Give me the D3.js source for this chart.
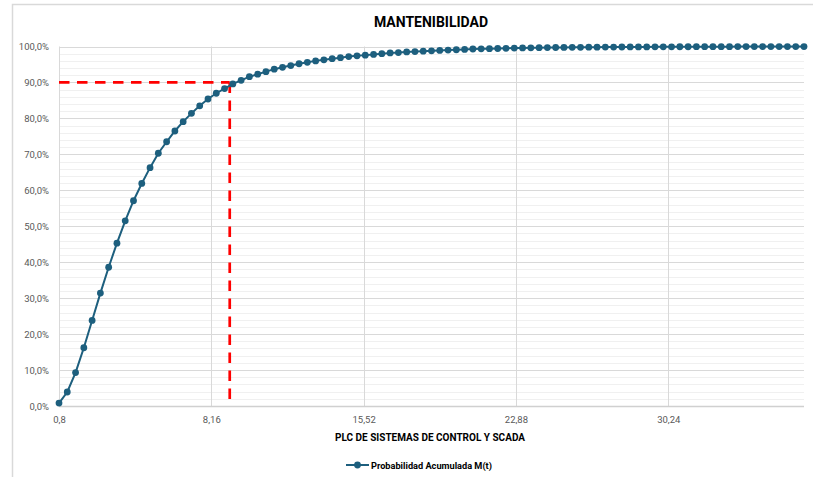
<!DOCTYPE html>
<html>
<head>
<meta charset="utf-8">
<script src="https://cdn.jsdelivr.net/npm/d3@7"></script>
<style>
  html, body { margin: 0; padding: 0; background: #ffffff; }
  svg { display: block; font-family: Roboto, "Liberation Sans", sans-serif; }
</style>
</head>
<body>
<svg id="chart" width="813" height="477"></svg>
<script>
// Tiempo (x) de cada punto de la curva
const tiempos = [
  0.8, 1.2, 1.6, 2.0, 2.4, 2.8, 3.2, 3.6, 4.0, 4.4,
  4.8, 5.2, 5.6, 6.0, 6.4, 6.8, 7.2, 7.6, 8.0, 8.4,
  8.8, 9.2, 9.6, 10.0, 10.4, 10.8, 11.2, 11.6, 12.0, 12.4,
  12.8, 13.2, 13.6, 14.0, 14.4, 14.8, 15.2, 15.6, 16.0, 16.4,
  16.8, 17.2, 17.6, 18.0, 18.4, 18.8, 19.2, 19.6, 20.0, 20.4,
  20.8, 21.2, 21.6, 22.0, 22.4, 22.8, 23.2, 23.6, 24.0, 24.4,
  24.8, 25.2, 25.6, 26.0, 26.4, 26.8, 27.2, 27.6, 28.0, 28.4,
  28.8, 29.2, 29.6, 30.0, 30.4, 30.8, 31.2, 31.6, 32.0, 32.4,
  32.8, 33.2, 33.6, 34.0, 34.4, 34.8, 35.2, 35.6, 36.0, 36.4,
  36.8
];

// Probabilidad acumulada M(t), en %
const probabilidad = [
  0.8, 3.9, 9.3, 16.2, 23.8, 31.4, 38.6, 45.3, 51.5, 57.1,
  61.9, 66.3, 70.3, 73.5, 76.5, 79.1, 81.4, 83.5, 85.4, 87.0,
  88.3, 89.6, 90.6, 91.6, 92.3, 93.0, 93.7, 94.2, 94.7, 95.2,
  95.6, 96.0, 96.3, 96.6, 96.9, 97.2, 97.4, 97.6, 97.8, 98.0,
  98.2, 98.3, 98.5, 98.6, 98.7, 98.8, 98.9, 99.0, 99.1, 99.2,
  99.3, 99.35, 99.4, 99.45, 99.5, 99.55, 99.6, 99.63, 99.66, 99.69,
  99.72, 99.74, 99.76, 99.78, 99.8, 99.82, 99.83, 99.85, 99.86, 99.87,
  99.88, 99.89, 99.9, 99.91, 99.92, 99.93, 99.93, 99.94, 99.95, 99.95,
  99.96, 99.96, 99.97, 99.97, 99.97, 99.98, 99.98, 99.98, 99.98, 99.99,
  99.99
];

// Ejes
const xTicks = [0.8, 8.16, 15.52, 22.88, 30.24];
const xTickLabels = ["0,8", "8,16", "15,52", "22,88", "30,24"];
const xDomain = [0.8, 36.8];
const yTicks = [0, 10, 20, 30, 40, 50, 60, 70, 80, 90, 100];
const yMinorTicks = [2,4,6,8,12,14,16,18,22,24,26,28,32,34,36,38,42,44,46,48,52,54,56,58,62,64,66,68,72,74,76,78,82,84,86,88,92,94,96,98];

// Punto de referencia: 90 % de mantenibilidad
const nivelObjetivo = 90;
const tiempoObjetivo = 9.05;

const titulo = "MANTENIBILIDAD";
const tituloEjeX = "PLC DE SISTEMAS DE CONTROL Y SCADA";
const nombreSerie = "Probabilidad Acumulada M(t)";

const colorSerie = "#1d5f7e";
const svg = d3.select("#chart");

// Marco del área del gráfico
svg.append("rect")
  .attr("x", 12.5).attr("y", 4.5)
  .attr("width", 820).attr("height", 490)
  .attr("fill", "#ffffff")
  .attr("stroke", "#d9d9d9").attr("stroke-width", 1.5);

const plot = { left: 59, right: 804, top: 46.5, bottom: 406 };

const x = d3.scaleLinear().domain(xDomain).range([plot.left, plot.right]);
const y = d3.scaleLinear().domain([0, 100]).range([plot.bottom, plot.top]);

// Líneas de división secundarias
svg.append("g").selectAll("line")
  .data(yMinorTicks).join("line")
  .attr("x1", plot.left).attr("x2", plot.right)
  .attr("y1", d => Math.round(y(d)) + 0.5).attr("y2", d => Math.round(y(d)) + 0.5)
  .attr("stroke", "#f0f0f0").attr("stroke-width", 1);

// Líneas de división principales
svg.append("g").selectAll("line")
  .data(yTicks.filter(d => d > 0)).join("line")
  .attr("x1", plot.left).attr("x2", plot.right)
  .attr("y1", d => Math.round(y(d)) + 0.5).attr("y2", d => Math.round(y(d)) + 0.5)
  .attr("stroke", "#d9d9d9").attr("stroke-width", 1);

svg.append("g").selectAll("line")
  .data(xTicks).join("line")
  .attr("x1", d => Math.round(x(d)) + 0.5).attr("x2", d => Math.round(x(d)) + 0.5)
  .attr("y1", plot.top).attr("y2", plot.bottom)
  .attr("stroke", "#d9d9d9").attr("stroke-width", 1);

// Eje horizontal
svg.append("line")
  .attr("x1", plot.left).attr("x2", plot.right)
  .attr("y1", plot.bottom + 0.5).attr("y2", plot.bottom + 0.5)
  .attr("stroke", "#d0d0d0").attr("stroke-width", 1.5);

// Etiquetas eje Y
const yAxis = d3.axisLeft(y)
  .tickValues(yTicks)
  .tickSize(0)
  .tickPadding(10)
  .tickFormat(d => d.toFixed(1).replace(".", ",") + "%");
svg.append("g")
  .attr("transform", `translate(${plot.left},0)`)
  .call(yAxis)
  .call(g => g.select(".domain").remove())
  .call(g => g.selectAll("text")
    .attr("fill", "#595959").attr("font-size", "9.5px")
    .attr("font-family", "Roboto, sans-serif"));

// Etiquetas eje X
const xAxis = d3.axisBottom(x)
  .tickValues(xTicks)
  .tickSize(0)
  .tickPadding(10)
  .tickFormat((d, i) => xTickLabels[i]);
svg.append("g")
  .attr("transform", `translate(0,${plot.bottom})`)
  .call(xAxis)
  .call(g => g.select(".domain").remove())
  .call(g => g.selectAll("text")
    .attr("fill", "#595959").attr("font-size", "9.5px")
    .attr("font-family", "Roboto, sans-serif"));

// Líneas de referencia al 90 %
svg.append("line")
  .attr("x1", x(xDomain[0])).attr("x2", x(tiempoObjetivo))
  .attr("y1", y(nivelObjetivo)).attr("y2", y(nivelObjetivo))
  .attr("stroke", "#ff0000").attr("stroke-width", 2.7)
  .attr("stroke-dasharray", "10.5,7.5");
svg.append("line")
  .attr("x1", x(tiempoObjetivo)).attr("x2", x(tiempoObjetivo))
  .attr("y1", y(nivelObjetivo)).attr("y2", y(0))
  .attr("stroke", "#ff0000").attr("stroke-width", 2.7)
  .attr("stroke-dasharray", "10.5,7.5");

// Serie
const puntos = tiempos.map((t, i) => ({ t, p: probabilidad[i] }));
const linea = d3.line().x(d => x(d.t)).y(d => y(d.p));
svg.append("path")
  .datum(puntos)
  .attr("d", linea)
  .attr("fill", "none")
  .attr("stroke", colorSerie)
  .attr("stroke-width", 2);
svg.append("g").selectAll("circle")
  .data(puntos).join("circle")
  .attr("cx", d => x(d.t)).attr("cy", d => y(d.p))
  .attr("r", 3.4)
  .attr("fill", colorSerie);

// Título
svg.append("text")
  .attr("x", 431).attr("y", 27)
  .attr("text-anchor", "middle")
  .attr("font-size", "14px").attr("font-weight", "bold")
  .attr("fill", "#000000")
  .text(titulo);

// Título eje X
svg.append("text")
  .attr("x", 430).attr("y", 440.5)
  .attr("text-anchor", "middle")
  .attr("font-size", "10px").attr("font-weight", "bold")
  .attr("fill", "#000000")
  .text(tituloEjeX);

// Leyenda
const leyenda = svg.append("g").attr("transform", "translate(346,465)");
leyenda.append("line")
  .attr("x1", 0).attr("x2", 23).attr("y1", 0).attr("y2", 0)
  .attr("stroke", colorSerie).attr("stroke-width", 2);
leyenda.append("circle")
  .attr("cx", 11.5).attr("cy", 0).attr("r", 3.4).attr("fill", colorSerie);
leyenda.append("text")
  .attr("x", 25).attr("y", 3.5)
  .attr("font-size", "9.2px").attr("font-weight", "bold")
  .attr("fill", "#000000")
  .text(nombreSerie);
</script>
</body>
</html>
